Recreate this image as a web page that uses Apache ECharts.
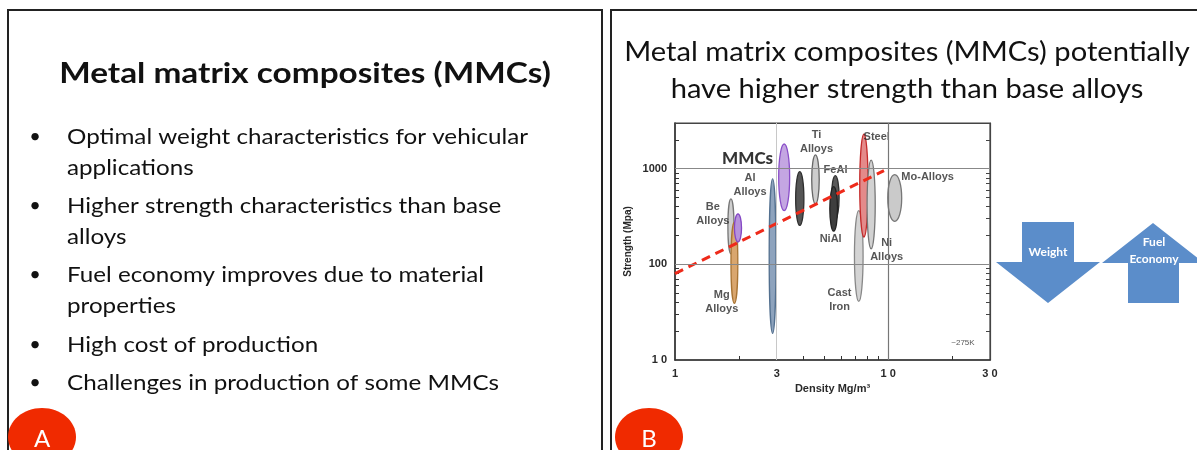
<!DOCTYPE html>
<html>
<head>
<meta charset="utf-8">
<script src="https://cdn.jsdelivr.net/npm/echarts@6/dist/echarts.min.js"></script>
<style>
  html, body { margin: 0; padding: 0; background: #fff; }
  #main { width: 1197px; height: 450px; }
</style>
</head>
<body>
<div id="main"></div>
<script>
// slide A text
const titleA = 'Metal matrix composites (MMCs)'
const bulletsA = [
  ['Optimal weight characteristics for vehicular', 'applications'],
  ['Higher strength characteristics than base', 'alloys'],
  ['Fuel economy improves due to material', 'properties'],
  ['High cost of production'],
  ['Challenges in production of some MMCs']
]
const titleB = ['Metal matrix composites (MMCs) potentially', 'have higher strength than base alloys']

// material bubbles (density Mg/m3, strength MPa)
const materials = ['Be Alloys', 'Mg Alloys', 'MMC (Mg)', 'Al Alloys', 'MMC (Al)', 'MMC (Ti)', 'Ti Alloys', 'FeAl', 'NiAl', 'Cast Iron', 'Steel', 'Ni Alloys', 'Mo-Alloys']
const densityLow = [1.78, 1.84, 1.91, 2.78, 3.08, 3.70, 4.40, 5.45, 5.35, 6.98, 7.39, 8.00, 10.0]
const densityHigh = [1.88, 1.96, 2.04, 2.96, 3.43, 4.00, 4.72, 5.85, 5.75, 7.58, 8.00, 8.64, 11.5]
const strengthLow = [129, 39, 171, 19, 365, 255, 428, 300, 222, 41, 193, 145, 281]
const strengthHigh = [483, 276, 337, 780, 1810, 930, 1390, 845, 650, 365, 2300, 1230, 866]

// dashed trend line
const trendDensity = [1, 9.55]
const trendStrength = [80, 953]

// annotations
const labelNames = ['MMCs', 'Ti\nAlloys', 'Steel', 'FeAl', 'Mo-Alloys', 'Al\nAlloys', 'Be\nAlloys', 'NiAl', 'Ni\nAlloys', 'Mg\nAlloys', 'Cast\nIron', '~275K']
const labelDensity = [2.19, 4.61, 8.83, 5.66, 15.3, 2.25, 1.505, 5.37, 9.83, 1.657, 5.91, 22.4]
const labelStrength = [1282, 1910, 2120, 968, 813, 681, 332, 185, 140, 40.5, 42.2, 15.3]

// axes
const xTickLabels = [1, 3, 10, 30]
const xMinorTicks = [2, 3, 4, 5, 6, 7, 8, 9, 10, 20]
const yTickLabels = [10, 100, 1000]
const yMinorTicks = [20, 30, 40, 50, 60, 70, 80, 90, 100, 200, 300, 400, 500, 600, 700, 800, 900, 1000, 2000]

const fills = {
  'Be Alloys': ['#cfcfcf', '#777'],
  'Mg Alloys': ['#d9a66e', '#a87434'],
  'MMC (Mg)': ['#b692dc', '#8447c4'],
  'Al Alloys': ['#8ea3bd', '#53708f'],
  'MMC (Al)': ['#c4a6e2', '#8a4fc8'],
  'MMC (Ti)': ['#555', '#2e2e2e'],
  'Ti Alloys': ['#cdcdcd', '#666'],
  'FeAl': ['#5a5a5a', '#2e2e2e'],
  'NiAl': ['#3e3e3e', '#222'],
  'Cast Iron': ['#d4d4d4', '#888'],
  'Steel': ['#e48a8a', '#c42a2a'],
  'Ni Alloys': ['#d2d2d2', '#777'],
  'Mo-Alloys': ['#cacaca', '#777']
}

const chart = echarts.init(document.getElementById('main'))

const font = 'Lato'
const graphics = []

// panel frames
graphics.push({ type: 'rect', shape: { x: 8, y: 10, width: 594, height: 470 }, style: { fill: 'none', stroke: '#222', lineWidth: 2 }, silent: true })
graphics.push({ type: 'rect', shape: { x: 611, y: 10, width: 600, height: 470 }, style: { fill: 'none', stroke: '#222', lineWidth: 2 }, silent: true })

graphics.push({
  type: 'text', x: 305, y: 74, scaleX: 1.19,
  style: { text: titleA, font: 'bold 28px ' + font, fill: '#111', textAlign: 'center', textVerticalAlign: 'middle' }
})

const bulletY = [137, 206, 275, 345, 383]
bulletsA.forEach((lines, i) => {
  graphics.push({ type: 'text', x: 35, y: bulletY[i], style: { text: '•', font: '20px ' + font, fill: '#111', textAlign: 'center', textVerticalAlign: 'middle' } })
  lines.forEach((t, j) => {
    graphics.push({ type: 'text', x: 67, y: bulletY[i] + j * 31, scaleX: 1.1, style: { text: t, font: '22px ' + font, fill: '#111', textVerticalAlign: 'middle' } })
  })
})

titleB.forEach((t, j) => {
  graphics.push({ type: 'text', x: 907, y: 53 + j * 37, scaleX: 1.12, style: { text: t, font: '26px ' + font, fill: '#111', textAlign: 'center', textVerticalAlign: 'middle' } })
})

// arrows
const arrowBlue = '#5b8dca'
graphics.push({ type: 'polygon', shape: { points: [[1022, 222], [1074, 222], [1074, 262], [1100, 262], [1048, 303], [996, 262], [1022, 262]] }, style: { fill: arrowBlue } })
graphics.push({ type: 'polygon', shape: { points: [[1153, 223], [1204, 263], [1179, 263], [1179, 303], [1128, 303], [1128, 263], [1102, 263]] }, style: { fill: arrowBlue } })
graphics.push({ type: 'text', x: 1048, y: 252, style: { text: 'Weight', font: 'bold 12px ' + font, fill: '#fff', textAlign: 'center', textVerticalAlign: 'middle' } })
graphics.push({ type: 'text', x: 1154, y: 242, style: { text: 'Fuel', font: 'bold 12px ' + font, fill: '#fff', textAlign: 'center', textVerticalAlign: 'middle' } })
graphics.push({ type: 'text', x: 1154, y: 259, style: { text: 'Economy', font: 'bold 12px ' + font, fill: '#fff', textAlign: 'center', textVerticalAlign: 'middle' } })

// red badges
;[['A', 42], ['B', 649]].forEach(([t, cx]) => {
  graphics.push({ type: 'ellipse', shape: { cx: cx, cy: 437, rx: 34, ry: 29 }, style: { fill: '#f02a00' } })
  graphics.push({ type: 'text', x: cx, y: 439, style: { text: t, font: '24px ' + font, fill: '#fff', textAlign: 'center', textVerticalAlign: 'middle' } })
})

const axisFont = 'Liberation Sans'
const spaced = (v) => String(v).split('').join(' ')

const option = {
  backgroundColor: '#fff',
  animation: false,
  graphic: graphics,
  grid: { left: 675, right: 207, top: 123, bottom: 90, show: true, borderColor: '#444', borderWidth: 1.2, backgroundColor: '#fff' },
  xAxis: [{
    type: 'log', min: 1, max: 30, position: 'bottom',
    name: 'Density Mg/m³', nameLocation: 'middle', nameGap: 23,
    nameTextStyle: { fontFamily: axisFont, fontWeight: 'bold', fontSize: 11, color: '#2a2a2a' },
    axisLine: { lineStyle: { color: '#333', width: 1.5 } },
    axisTick: { inside: true, length: 4, customValues: xMinorTicks, lineStyle: { color: '#333' } },
    axisLabel: { customValues: xTickLabels, formatter: spaced, fontFamily: axisFont, fontWeight: 'bold', fontSize: 11, color: '#2a2a2a', margin: 8 },
    splitLine: { show: false }
  }, {
    type: 'log', min: 1, max: 30, position: 'top',
    axisLine: { lineStyle: { color: '#444', width: 1.2 } },
    axisTick: { show: false },
    axisLabel: { show: false },
    splitLine: { show: false }
  }],
  yAxis: [{
    type: 'log', min: 10, max: 3000, position: 'left',
    name: 'Strength (Mpa)', nameLocation: 'middle', nameGap: 42,
    nameTextStyle: { fontFamily: axisFont, fontWeight: 'bold', fontSize: 10, color: '#2a2a2a' },
    axisLine: { lineStyle: { color: '#333', width: 1.5 } },
    axisTick: { inside: true, length: 4, customValues: yMinorTicks, lineStyle: { color: '#333' } },
    axisLabel: { customValues: yTickLabels, formatter: (v) => (v === 10 ? '1 0' : String(v)), fontFamily: axisFont, fontWeight: 'bold', fontSize: 11, color: '#2a2a2a', margin: 8 },
    splitLine: { show: false }
  }, {
    type: 'log', min: 10, max: 3000, position: 'right',
    axisLine: { show: true, lineStyle: { color: '#444', width: 1.2 } },
    axisTick: { inside: true, length: 4, customValues: yMinorTicks, lineStyle: { color: '#444' } },
    axisLabel: { show: false },
    splitLine: { show: false }
  }],
  series: [{
    // reference grid lines
    type: 'line', data: [], z: 1, silent: true,
    markLine: {
      symbol: 'none', silent: true, label: { show: false },
      data: [
        { xAxis: 3, lineStyle: { color: '#c8c8c8', width: 1, type: 'solid' } },
        { xAxis: 10, lineStyle: { color: '#777', width: 1.2, type: 'solid' } },
        { yAxis: 100, lineStyle: { color: '#888', width: 1.2, type: 'solid' } },
        { yAxis: 1000, lineStyle: { color: '#888', width: 1.2, type: 'solid' } }
      ]
    }
  }, {
    type: 'custom', z: 2, silent: true,
    encode: { x: [0, 1], y: [2, 3] },
    data: materials.map((m, i) => ({ name: m, value: [densityLow[i], densityHigh[i], strengthLow[i], strengthHigh[i]] })),
    renderItem: (params, api) => {
      const p0 = api.coord([api.value(0), api.value(2)])
      const p1 = api.coord([api.value(1), api.value(3)])
      const c = fills[materials[params.dataIndex]]
      return {
        type: 'ellipse',
        shape: { cx: (p0[0] + p1[0]) / 2, cy: (p0[1] + p1[1]) / 2, rx: Math.abs(p1[0] - p0[0]) / 2 + 0.5, ry: Math.abs(p1[1] - p0[1]) / 2 },
        style: { fill: c[0], stroke: c[1], lineWidth: 1.3 }
      }
    }
  }, {
    type: 'line', z: 3, silent: true, symbol: 'none',
    data: trendDensity.map((d, i) => [d, trendStrength[i]]),
    lineStyle: { color: '#ee2a1a', width: 3, type: [9, 6] }
  }, {
    type: 'scatter', z: 4, silent: true, symbolSize: 0,
    data: labelNames.map((n, i) => {
      const item = { name: n, value: [labelDensity[i], labelStrength[i]] }
      if (n === 'MMCs') item.label = { fontSize: 17, fontWeight: 900, color: '#000', fontFamily: 'Lato' }
      if (n === '~275K') item.label = { fontSize: 8, fontWeight: 'normal' }
      return item
    }),
    label: {
      show: true, position: 'inside', formatter: (p) => p.name,
      fontFamily: axisFont, fontWeight: 'bold', fontSize: 11, color: '#2a2a2a', lineHeight: 14
    }
  }]
}

chart.setOption(option)
</script>
</body>
</html>
